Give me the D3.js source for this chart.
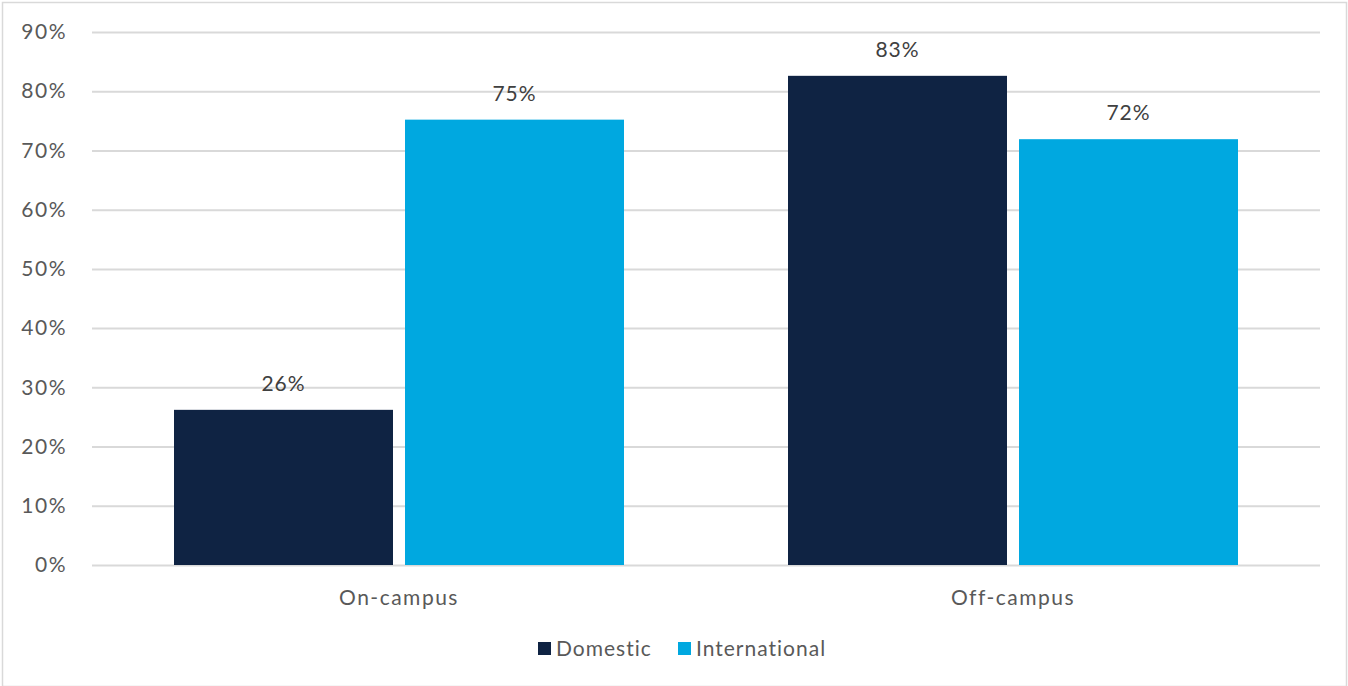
<!DOCTYPE html>
<html><head><meta charset="utf-8">
<script src="https://cdn.jsdelivr.net/npm/d3@7"></script>
<style>
html,body{margin:0;padding:0;background:#fff;}
svg{display:block;font-family:Lato, "Open Sans", sans-serif;}
</style></head>
<body>
<svg id="chart" width="1348" height="686"></svg>
<script>
const categories = ["On-campus", "Off-campus"];
const seriesNames = ["Domestic", "International"];
const domesticValues = [0.262, 0.826];
const internationalValues = [0.752, 0.719];
const yTicks = [0, 0.1, 0.2, 0.3, 0.4, 0.5, 0.6, 0.7, 0.8, 0.9];
const colors = ["#0f2343", "#00a8e0"];

const svg = d3.select("#chart");
const W = 1348, H = 686;
const FS = "21px", LS = "1px";

// outer frame
svg.append("rect").attr("x", 2.5).attr("y", 2.5).attr("width", W - 4).attr("height", H - 2)
  .attr("fill", "#fff").attr("stroke", "#d9d9d9").attr("stroke-width", 1.5);

const plot = {left: 92, right: 1320, top: 32, bottom: 565};
const y = d3.scaleLinear().domain([0, 0.9]).range([plot.bottom, plot.top]);
const x0 = d3.scaleBand().domain(categories).range([plot.left, plot.right]).padding(0);
const groupW = 450;
const x1 = d3.scaleBand().domain(seriesNames).range([0, groupW]).paddingInner(0.052).paddingOuter(0);
const groupOffset = (x0.bandwidth() - groupW) / 2;

// gridlines
const yAxis = d3.axisLeft(y).tickValues(yTicks).tickFormat(d3.format(".0%"))
  .tickSize(-(plot.right - plot.left)).tickPadding(25);
const gy = svg.append("g").attr("transform", `translate(${plot.left},0)`).call(yAxis);
gy.select(".domain").remove();
gy.selectAll(".tick line").attr("stroke", "#d9d9d9").attr("stroke-width", 2);
gy.selectAll(".tick text").attr("fill", "#595959").style("font-size", FS)
  .style("letter-spacing", "1.5px").style("font-family", "Lato, sans-serif");

const data = categories.map((c, i) => ({
  cat: c,
  vals: [{s: seriesNames[0], v: domesticValues[i]}, {s: seriesNames[1], v: internationalValues[i]}]
}));

const groups = svg.append("g").selectAll("g").data(data).join("g")
  .attr("transform", d => `translate(${x0(d.cat) + groupOffset},0)`);

groups.selectAll("rect").data(d => d.vals).join("rect")
  .attr("x", d => x1(d.s))
  .attr("width", x1.bandwidth())
  .attr("y", d => y(d.v))
  .attr("height", d => y(0) - y(d.v))
  .attr("fill", (d, i) => colors[i]);

groups.selectAll("text.lbl").data(d => d.vals).join("text")
  .attr("class", "lbl")
  .attr("x", d => x1(d.s) + x1.bandwidth() / 2)
  .attr("y", d => y(d.v) - 19)
  .attr("text-anchor", "middle")
  .attr("fill", "#404040")
  .style("font-size", FS).style("letter-spacing", LS)
  .text(d => d3.format(".0%")(d.v));

// x axis labels
const xAxis = d3.axisBottom(x0).tickSize(0).tickPadding(25);
const gx = svg.append("g").attr("transform", `translate(0,${plot.bottom})`).call(xAxis);
gx.select(".domain").remove();
gx.selectAll(".tick text").attr("fill", "#595959").style("font-size", FS)
  .style("letter-spacing", "1.5px").style("font-family", "Lato, sans-serif");

// legend
const legend = svg.append("g").attr("transform", "translate(538,649)");
const items = [{name: seriesNames[0], x: 0}, {name: seriesNames[1], x: 140}];
items.forEach((it, i) => {
  legend.append("rect").attr("x", it.x).attr("y", -7).attr("width", 13).attr("height", 13).attr("fill", colors[i]);
  legend.append("text").attr("x", it.x + 18).attr("y", 0).attr("dy", "0.35em")
    .attr("fill", "#595959").style("font-size", FS).style("letter-spacing", LS).text(it.name);
});
</script>
</body></html>
